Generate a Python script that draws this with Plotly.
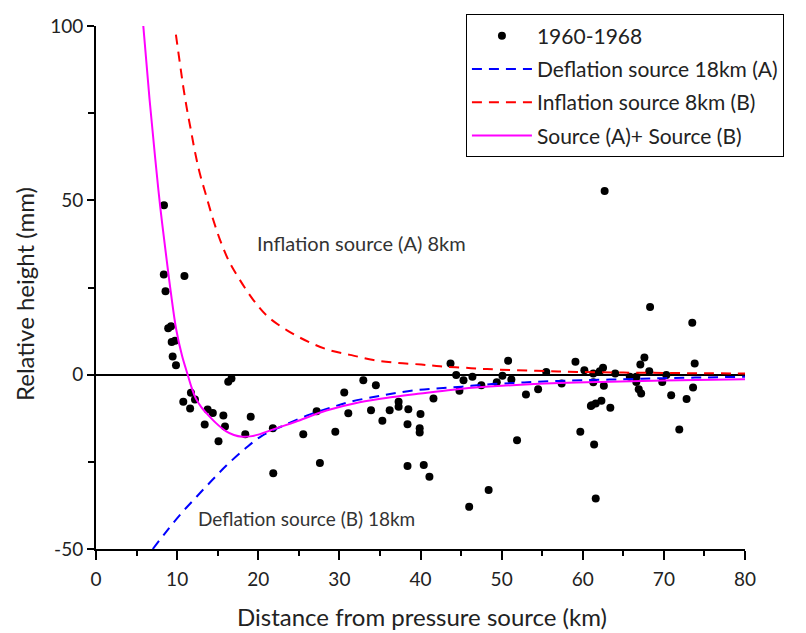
import plotly.graph_objects as go

# ---- observed data (1960-1968) ----
obs_x = [8.38, 8.36, 10.9, 8.57, 8.9, 9.25, 9.33, 9.74, 9.45, 9.86,
         16.3, 16.7, 11.7, 10.76, 12.2, 11.6, 13.76, 14.4, 13.4, 15.7,
         15.9, 15.1, 19.07, 18.4, 21.8, 21.85, 32.95, 34.5, 30.6, 27.2,
         31.1, 33.9, 36.2, 37.3, 37.3, 38.5, 40.0, 35.3, 38.4, 39.9,
         39.9, 41.6, 25.55, 29.5, 27.6, 38.4, 40.4, 41.1, 43.7, 50.8,
         59.1, 55.5, 60.2, 44.4, 45.3, 46.4, 47.5, 49.4, 50.1, 51.2,
         44.8, 53.0, 54.5, 57.4, 61.3, 61.3, 61.1, 61.6, 59.7, 51.9,
         61.4, 48.4, 46.0, 61.6, 62.7, 68.3, 73.5, 67.6, 67.1, 73.8,
         62.5, 62.1, 64.0, 68.2, 65.8, 66.6, 66.6, 70.3, 69.8, 62.6,
         66.9, 67.2, 70.9, 73.6, 72.8, 62.3, 63.4, 71.9, 61.0]
obs_y = [48.6, 28.7, 28.3, 23.9, 13.3, 13.9, 9.4, 9.7, 5.2, 2.7,
         -2.0, -1.1, -5.2, -7.8, -7.1, -9.7, -10.0, -11.0, -14.3, -11.7,
         -14.9, -19.1, -12.1, -17.1, -15.4, -28.3, -1.6, -3.0, -5.1, -10.5,
         -11.1, -10.2, -10.2, -7.8, -9.2, -9.9, -11.3, -13.2, -14.2, -15.4,
         -16.6, -6.8, -17.1, -16.4, -25.3, -26.2, -25.9, -29.3, 3.2, 4.0,
         3.7, 0.8, 1.3, -0.1, -1.6, -0.6, -3.0, -2.2, -0.3, -1.4,
         -4.6, -5.7, -4.2, -2.5, 0.3, -2.2, -8.8, -8.3, -16.4, -18.8,
         -20.0, -33.1, -37.9, -35.5, 52.7, 19.4, 14.9, 4.9, 2.9, 3.2,
         2.0, 1.0, 0.3, 1.0, -0.6, -0.6, -2.1, -0.1, -2.1, -3.2,
         -4.2, -5.4, -5.9, -3.7, -7.0, -7.5, -9.5, -15.7, -9.0]

# ---- model curves ----
defl_x = [7.0, 8.5, 10.5, 12.4, 14.3, 16.1, 18.4, 20.4, 23.1, 26.4, 29.0, 31.3,
          34.2, 36.6, 39.5, 42.4, 45.3, 48.2, 51.4, 54.0, 57.0, 60.0, 65.0,
          70.0, 75.0, 80.0]
defl_y = [-50.0, -45.5, -39.8, -35.0, -30.3, -26.0, -21.2, -17.6, -14.6, -11.4,
          -9.4, -7.8, -6.4, -5.4, -4.4, -3.9, -3.4, -2.8, -2.4, -2.1, -1.8,
          -1.6, -1.3, -1.0, -0.8, -0.6]

infl_x = [9.85, 10.35, 10.76, 11.2, 11.7, 12.2, 12.8, 13.56, 14.4, 15.3, 16.4,
          17.7, 19.4, 21.2, 23.5, 26.2, 28.8, 31.5, 34.2, 37.1, 40.1, 42.4,
          45.3, 48.2, 54.3, 59.3, 65.0, 70.0, 75.0, 80.0]
infl_y = [97.5, 89.2, 82.5, 76.3, 70.1, 63.9, 57.7, 51.5, 44.8, 38.6, 32.5,
          27.3, 21.4, 16.6, 12.8, 9.4, 7.0, 5.6, 4.2, 3.4, 2.9, 2.4, 2.0, 1.6,
          1.1, 0.8, 0.6, 0.5, 0.4, 0.35]

sum_x = [5.83, 6.6, 7.3, 7.9, 8.6, 9.2, 9.9, 10.6, 11.3, 11.8, 12.3, 13.0,
         13.6, 14.8, 16.0, 17.0, 18.0, 19.0, 20.0, 22.2, 24.6, 28.4, 32.5,
         36.6, 40.0, 44.0, 48.0, 54.0, 62.0, 70.0, 80.0]
sum_y = [100.0, 79.0, 62.0, 48.5, 35.0, 24.0, 12.8, 5.5, 0.0, -3.8, -6.8, -9.4,
         -11.0, -13.9, -16.2, -17.3, -17.8, -17.7, -17.2, -15.4, -13.5, -10.3,
         -7.9, -6.4, -5.4, -4.3, -3.5, -2.7, -2.1, -1.7, -1.3]

x_ticks = [0, 10, 20, 30, 40, 50, 60, 70, 80]
y_ticks = [-50, 0, 50, 100]
y_tick_text = ["-50", "0", "50", "100"]

FONT = "Lato"
TXT = "#222222"

fig = go.Figure()
fig.add_trace(go.Scatter(
    x=obs_x, y=obs_y, mode="markers", name="1960-1968",
    marker=dict(color="black", size=8), legendgroup="a"))
fig.add_trace(go.Scatter(
    x=defl_x, y=defl_y, mode="lines", name="Deflation source 18km (A)",
    line=dict(color="#0000FF", width=2, dash="10px,7px", shape="spline"),
    legendgroup="b"))
fig.add_trace(go.Scatter(
    x=infl_x, y=infl_y, mode="lines", name="Inflation source 8km (B)",
    line=dict(color="#FF0000", width=2, dash="10px,7px", shape="spline"),
    legendgroup="c"))
fig.add_trace(go.Scatter(
    x=sum_x, y=sum_y, mode="lines", name="Source (A)+ Source (B)",
    line=dict(color="#FF00FF", width=2, shape="spline"),
    legendgroup="d"))

fig.add_annotation(x=19.6, y=37.7, text="Inflation source (A) 8km", showarrow=False,
                   xanchor="left", yanchor="middle",
                   font=dict(family=FONT, size=20, color="#333333"))
fig.add_annotation(x=12.3, y=-41.2, text="Deflation source (B) 18km", showarrow=False,
                   xanchor="left", yanchor="middle",
                   font=dict(family=FONT, size=19, color="#333333"))

# axis titles as paper-positioned text
fig.add_annotation(xref="paper", yref="paper", x=0.502, y=-0.130,
                   text="Distance from pressure source (km)", showarrow=False,
                   xanchor="center", yanchor="middle",
                   font=dict(family=FONT, size=24, color=TXT))
fig.add_annotation(xref="paper", yref="paper", x=-0.109, y=0.488,
                   text="Relative height (mm)", showarrow=False, textangle=-90,
                   xanchor="center", yanchor="middle",
                   font=dict(family=FONT, size=24, color=TXT))

fig.update_layout(
    width=806, height=633,
    margin=dict(l=96, r=61, t=26, b=84),
    paper_bgcolor="white", plot_bgcolor="white",
    font=dict(family=FONT, size=19, color=TXT),
    showlegend=True,
    legend=dict(x=0.570, y=1.022, xanchor="left", yanchor="top",
                bordercolor="black", borderwidth=1, bgcolor="white",
                font=dict(family=FONT, size=21, color=TXT),
                itemwidth=60, tracegroupgap=3, traceorder="grouped"),
    xaxis=dict(range=[0, 80], tickvals=x_ticks, showline=True, linecolor="black",
               linewidth=2, ticks="outside", ticklen=9, tickwidth=2, tickcolor="black",
               ticklabelstandoff=3, automargin=False,
               minor=dict(dtick=5, ticks="outside", ticklen=5, tickwidth=2, tickcolor="black"),
               showgrid=False, zeroline=False),
    yaxis=dict(range=[-50, 100], tickvals=y_ticks, ticktext=y_tick_text, showline=True,
               linecolor="black", linewidth=2, ticks="outside", ticklen=7, tickwidth=2,
               tickcolor="black", automargin=False,
               minor=dict(tickvals=[-25, 25, 75], ticks="outside", ticklen=6, tickwidth=2,
                          tickcolor="black"),
               showgrid=False, zeroline=True, zerolinecolor="black", zerolinewidth=2),
)

fig.write_html("out.html")
